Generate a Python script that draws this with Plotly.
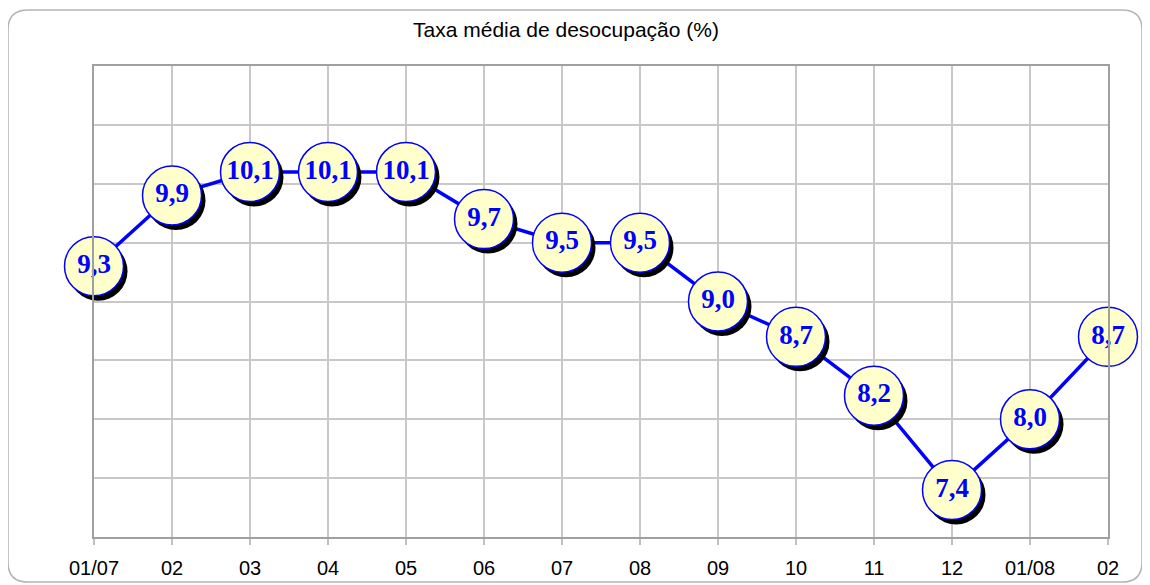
import plotly.graph_objects as go

categories = ["01/07", "02", "03", "04", "05", "06", "07", "08", "09", "10", "11", "12", "01/08", "02"]
values = [9.3, 9.9, 10.1, 10.1, 10.1, 9.7, 9.5, 9.5, 9.0, 8.7, 8.2, 7.4, 8.0, 8.7]
title_text = "Taxa média de desocupação (%)"

# page body adds an 8px offset; figure is sized so the visible result fills 1150x585
OFF = 8
W, H = 1150 - OFF, 585 - OFF
L, T = 94 - OFF, 66 - OFF
R = W - (1108 - OFF)
B = H - (537 - OFF)
pw, ph = W - L - R, H - T - B
y_min, y_max = 7.0, 11.0
x_idx = list(range(len(categories)))
labels = [f"{v:.1f}".replace(".", ",") for v in values]

# shadow offset in pixels converted to data units
sx, sy = 4, 5
dx = sx * (len(categories) - 1) / pw
dy = sy * (y_max - y_min) / ph

fig = go.Figure()
fig.add_trace(go.Scatter(x=x_idx, y=values, mode="lines",
                         line=dict(color="#0000FF", width=3.5), cliponaxis=False,
                         hoverinfo="skip", showlegend=False))
fig.add_trace(go.Scatter(x=[i + dx for i in x_idx], y=[v - dy for v in values], mode="markers",
                         marker=dict(size=59, color="#000000", line=dict(width=0)),
                         cliponaxis=False, hoverinfo="skip", showlegend=False))
fig.add_trace(go.Scatter(x=x_idx, y=values, mode="markers+text", text=labels,
                         textposition="middle center",
                         textfont=dict(family="Liberation Serif", size=27, color="#0000FF", weight="bold"),
                         marker=dict(size=59, color="#FFFFCC", line=dict(width=1.5, color="#0000FF")),
                         cliponaxis=False, showlegend=False))

def P(x, y):
    a = (x - L) / pw
    b = (H - B - y) / ph
    return f"{a:.5f},{b:.5f}"

x0, y0 = 8 - OFF, 10 - OFF
x1, y1 = 1142 - OFF, 582 - OFF
r = 20
path = (f"M {P(x0 + r, y0)} L {P(x1 - r, y0)} Q {P(x1, y0)} {P(x1, y0 + r)} "
        f"L {P(x1, y1 - r)} Q {P(x1, y1)} {P(x1 - r, y1)} "
        f"L {P(x0 + r, y1)} Q {P(x0, y1)} {P(x0, y1 - r)} "
        f"L {P(x0, y0 + r)} Q {P(x0, y0)} {P(x0 + r, y0)} Z")
fig.add_shape(type="path", path=path, xref="paper", yref="paper",
              line=dict(color="#B4B4B4", width=1.5), layer="below")

fig.update_layout(
    width=W, height=H,
    margin=dict(l=L, r=R, t=T, b=B, autoexpand=False),
    paper_bgcolor="#FFFFFF", plot_bgcolor="#FFFFFF",
    title=dict(text=title_text, x=(566 - 94) / 1014, xref="paper", xanchor="center",
               y=1 - (30 - OFF) / H, yanchor="middle",
               font=dict(family="Liberation Sans", size=21, color="#000000")),
    xaxis=dict(range=[0, len(categories) - 1], tickmode="array", tickvals=x_idx, ticktext=categories,
               showgrid=True, gridcolor="#C8C8C8", gridwidth=1.5,
               showline=True, linecolor="#A0A0A0", linewidth=1.5, mirror=True,
               ticks="outside", ticklen=6, tickcolor="#C0C0C0", tickwidth=1.5,
               ticklabelstandoff=6, automargin=False,
               tickfont=dict(family="Liberation Sans", size=20, color="#000000"),
               zeroline=False, fixedrange=True),
    yaxis=dict(range=[y_min, y_max], dtick=0.5, tick0=7, showticklabels=False,
               showgrid=True, gridcolor="#C8C8C8", gridwidth=1.5,
               showline=True, linecolor="#A0A0A0", linewidth=1.5, mirror=True,
               automargin=False, zeroline=False, fixedrange=True),
)

fig.write_html("out.html")
